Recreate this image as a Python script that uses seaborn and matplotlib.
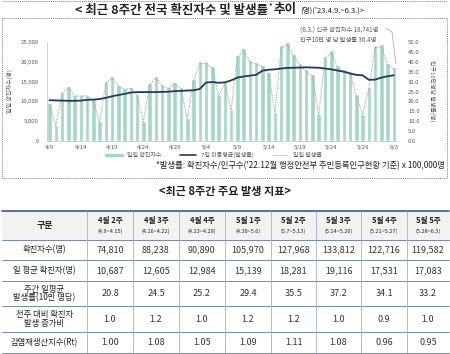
import numpy as np
import pandas as pd
import seaborn as sns
import matplotlib
matplotlib.use('Agg')
from matplotlib import pyplot as plt
from matplotlib.lines import Line2D
from matplotlib.ticker import FuncFormatter

# daily confirmed cases, 4/9 ~ 6/3
days = list(pd.date_range('2023-04-09', '2023-06-03').strftime('%-m/%-d'))
counts = [9500, 3950, 12450, 13850, 11650, 11700, 11700,
          10500, 5000, 15100, 16400, 14100, 13400, 13700,
          11800, 5000, 14700, 16500, 14400, 13600, 14900,
          13600, 5800, 15700, 20100, 20100, 18900, 11700,
          14900, 8150, 21650, 23550, 20550, 19950, 19300,
          17400, 7300, 24200, 25000, 22000, 19700, 18100,
          16800, 6700, 21400, 22900, 19100, 18100, 17800,
          11900, 6900, 13600, 24300, 24400, 19800, 18741]
# 7-day moving average of the rate per 100k
ma_rate = [20.6, 20.5, 20.4, 20.3, 20.3, 20.4, 20.8,
           20.9, 21.2, 21.8, 22.6, 23.2, 23.8, 24.5,
           24.7, 24.7, 24.7, 24.7, 24.8, 24.9, 25.2,
           25.3, 25.5, 25.6, 26.3, 29.5, 29.8, 29.4,
           29.6, 30.6, 32.0, 32.6, 33.0, 33.4, 35.5,
           36.0, 36.2, 36.6, 36.9, 37.0, 37.1, 37.2,
           37.1, 37.0, 36.6, 36.2, 35.6, 35.0, 34.1,
           33.4, 33.2, 30.9, 31.0, 32.0, 32.7, 33.2]
population = 51439038  # '22.12 registered population

week_names = ['4월 2주', '4월 3주', '4월 4주', '5월 1주', '5월 2주', '5월 3주', '5월 4주', '5월 5주']
week_ranges = ['(4.9~4.15)', '(4.16~4.22)', '(4.23~4.29)', '(4.30~5.6)',
               '(5.7~5.13)', '(5.14~5.20)', '(5.21~5.27)', '(5.28~6.3)']
row_names = ['확진자수(명)', '일 평균 확진자(명)', '주간 일평균\n발생률(10만 명당)',
             '전주 대비 확진자\n발생 증가비', '감염재생산지수(Rt)']
weekly_cases = ['74,810', '88,238', '90,890', '105,970', '127,968', '133,812', '122,716', '119,582']
daily_avg = ['10,687', '12,605', '12,984', '15,139', '18,281', '19,116', '17,531', '17,083']
weekly_rate = ['20.8', '24.5', '25.2', '29.4', '35.5', '37.2', '34.1', '33.2']
increase_ratio = ['1.0', '1.2', '1.0', '1.2', '1.2', '1.0', '0.9', '1.0']
rt_values = ['1.00', '1.08', '1.05', '1.09', '1.11', '1.08', '0.96', '0.95']

GREEN = '#a3d6c4'
NAVY = '#1f3864'
GRAY = '#595959'

sns.set_style('white')
plt.rcParams['font.family'] = ['Noto Sans CJK KR', 'DejaVu Sans']

df = pd.DataFrame({'day': days, 'count': counts, 'ma': ma_rate})
df['rate'] = df['count'] * 100000 / population
df['pos'] = np.arange(len(df))

fig = plt.figure(figsize=(4.5, 3.54), dpi=100)

# ---- chart ----
ax = fig.add_axes([47 / 450, 1 - 141 / 354, 350 / 450, 99 / 354])
sns.barplot(data=df, x='day', y='count', color=GREEN, saturation=1, width=0.72, ax=ax)
ax2 = ax.twinx()
sns.lineplot(data=df, x='pos', y='rate', ax=ax2, color='#a0a0a0', lw=0.7, linestyle=(0, (1.2, 1.2)))
sns.lineplot(data=df, x='pos', y='ma', ax=ax2, color=NAVY, lw=1.3)
ax.set_ylim(0, 25000)
ax2.set_ylim(0, 50)
ax.set_xlim(-0.4, 55.5)

ax.set_xticks(range(0, 56, 5))
ax.set_xticklabels(days[::5])
ax.set_yticks(range(0, 25001, 5000))
ax.yaxis.set_major_formatter(FuncFormatter(lambda v, p: f'{v:,.0f}'))
ax2.set_yticks(range(0, 51, 5))
ax2.yaxis.set_major_formatter(FuncFormatter(lambda v, p: f'{v:.1f}'))
for a in (ax, ax2):
    a.set_xlabel('')
    a.set_ylabel('')
    a.tick_params(length=0, labelsize=4.3, labelcolor=GRAY)
ax.tick_params(axis='y', pad=6)
ax2.tick_params(axis='y', pad=8)
ax.tick_params(axis='x', pad=3)
for s in ['top', 'right']:
    ax.spines[s].set_visible(False)
for s in ['left', 'bottom']:
    ax.spines[s].set_color('#c8c8c8')
    ax.spines[s].set_linewidth(0.6)
for s in ax2.spines.values():
    s.set_visible(False)

handles = [Line2D([], [], color=GREEN, lw=2.5),
           Line2D([], [], color=NAVY, lw=1.2),
           Line2D([], [], color='#a0a0a0', lw=0.7, linestyle=(0, (1.2, 1.2)))]
fig.legend(handles, ['일일 확진자수', '7일 이동평균(발생률)', '일일 발생률'],
           loc='center', bbox_to_anchor=(214 / 450, 1 - 155 / 354), ncol=3,
           fontsize=4.3, frameon=False, handlelength=2.6, columnspacing=3.2,
           labelcolor=GRAY)

# ---- overlay in pixel coordinates ----
deco = fig.add_axes([0, 0, 1, 1], zorder=5)
deco.set_xlim(0, 450)
deco.set_ylim(354, 0)
deco.axis('off')
deco.patch.set_visible(False)

dot = dict(color='#808080', lw=0.7, linestyle=(0, (1, 1)))
deco.plot([2, 447], [1, 1], **dot)
deco.plot([2, 447], [18, 18], **dot)
deco.plot([2, 447], [178, 178], **dot)
deco.plot([2, 2], [18, 178], **dot)
deco.plot([447, 447], [18, 178], **dot)

deco.text(268, 10, '< 최근 8주간 전국 확진자수 및 발생률', ha='right', va='center',
          fontsize=9, fontweight='bold', color='#222222')
deco.text(269, 5.5, '*', ha='left', va='center', fontsize=5, fontweight='bold')
deco.text(274, 10, '추이', ha='left', va='center', fontsize=9, fontweight='bold', color='#222222')
deco.text(300, 10.5, "(명)('23.4.9.~6.3.)>", ha='left', va='center', fontsize=5.5, color='#222222')

deco.text(10, 91, '일일 확진자수(명)', rotation=90, ha='center', va='center', fontsize=4.3, color=GRAY)
deco.text(432, 91, '인구10만명당 발생률(명)', rotation=270, ha='center', va='center',
          fontsize=4.3, color=GRAY)

deco.text(300, 31, '(6.3.) 신규 확진자수 18,741명', ha='left', va='center', fontsize=4.5, color=GRAY)
deco.text(300, 40, '인구10만 명 당 발생률 36.4명', ha='left', va='center', fontsize=4.5, color=GRAY)
deco.plot([386, 392, 396], [28, 32, 64], color='#b0b0b0', lw=0.6)

deco.text(445, 166, "*발생률: 확진자수/인구수('22.12월 행정안전부 주민등록인구현황 기준) x 100,000명",
          ha='right', va='center', fontsize=6, color='#222222')

deco.text(225, 192, '<최근 8주간 주요 발생 지표>', ha='center', va='center',
          fontsize=8, fontweight='bold', color='#222222')

# ---- table ----
cols = [2, 87, 133, 179, 225, 271, 316, 361, 407, 449]
rows = [211, 240, 260, 281, 306, 332, 353]
deco.fill_between([cols[0], cols[-1]], rows[0], rows[1], color='#f2f2f2', zorder=0)
deco.plot([cols[0], cols[-1]], [rows[0], rows[0]], color='#3c5a8c', lw=1.2)
for y in rows[1:]:
    deco.plot([cols[0], cols[-1]], [y, y], color='#5b79ad', lw=0.6)
for x in cols[1:-1]:
    deco.plot([x, x], [rows[0], rows[-1]], color='#9bb1d6', lw=0.6)

deco.text((cols[0] + cols[1]) / 2, (rows[0] + rows[1]) / 2, '구분', ha='center', va='center',
          fontsize=6.5, fontweight='bold', color='#222222')
for i, (name, rng) in enumerate(zip(week_names, week_ranges)):
    cx = (cols[i + 1] + cols[i + 2]) / 2
    deco.text(cx, 221, name, ha='center', va='center', fontsize=5.5, fontweight='bold', color='#222222')
    deco.text(cx, 231, rng, ha='center', va='center', fontsize=4, color='#222222')

table_values = [weekly_cases, daily_avg, weekly_rate, increase_ratio, rt_values]
for r, (label, vals) in enumerate(zip(row_names, table_values)):
    cy = (rows[r + 1] + rows[r + 2]) / 2
    deco.text((cols[0] + cols[1]) / 2, cy, label, ha='center', va='center', fontsize=6,
              linespacing=0.95, color='#222222')
    for i, v in enumerate(vals):
        cx = (cols[i + 1] + cols[i + 2]) / 2
        deco.text(cx, cy, v, ha='center', va='center', fontsize=6.5, color='#333333')

fig.savefig('out.png', dpi=100)
